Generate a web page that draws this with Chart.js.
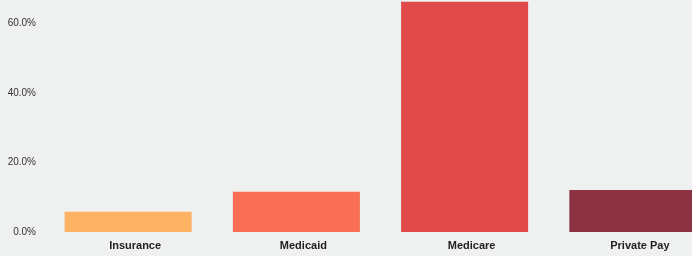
<!DOCTYPE html>
<html>
<head>
<meta charset="utf-8">
<script src="https://cdn.jsdelivr.net/npm/chart.js@4/dist/chart.umd.min.js"></script>
<style>
  html, body { margin: 0; padding: 0; background: #eff0f0; overflow: hidden; }
  #wrap { width: 717px; height: 256px; position: relative; }
</style>
</head>
<body>
<div id="wrap"><canvas id="payer"></canvas></div>
<script>
// payer mix, percent of patients
var categories = ['Insurance', 'Medicaid', 'Medicare', 'Private Pay'];
var shares = [5.8, 11.6, 66.3, 12.1];
var barColors = ['#fdb264', '#f96e54', '#e04a4a', '#8c3242'];
var yTicks = [0, 20, 40, 60];

var ctx = document.getElementById('payer').getContext('2d');
var myChart = new Chart(ctx, {
    type: 'bar',
    data: {
        labels: categories,
        datasets: [{
            data: shares,
            backgroundColor: barColors,
            borderWidth: 0,
            categoryPercentage: 1.0,
            barPercentage: 0.755
        }]
    },
    options: {
        responsive: true,
        maintainAspectRatio: false,
        animation: false,
        layout: { padding: 0 },
        plugins: {
            legend: { display: false },
            tooltip: { enabled: false }
        },
        scales: {
            x: {
                grid: { display: false, drawTicks: false },
                border: { display: false },
                ticks: {
                    padding: 7,
                    labelOffset: 7,
                    color: '#222',
                    font: { family: 'Liberation Sans', size: 11, weight: 'bold' }
                },
                afterFit: function (s) { s.height = 24; s.paddingLeft = 0; s.paddingRight = 0; }
            },
            y: {
                min: 0,
                max: 66.8,
                grid: { display: false, drawTicks: false },
                border: { display: false },
                afterBuildTicks: function (s) {
                    s.ticks = yTicks.map(function (v) { return { value: v }; });
                },
                ticks: {
                    padding: 8,
                    color: '#333',
                    font: { family: 'Liberation Sans', size: 10 },
                    callback: function (v) { return v.toFixed(1) + '%'; }
                },
                afterFit: function (s) { s.width = 44; s.paddingTop = 0; s.paddingBottom = 0; }
            }
        }
    }
});
</script>
</body>
</html>
